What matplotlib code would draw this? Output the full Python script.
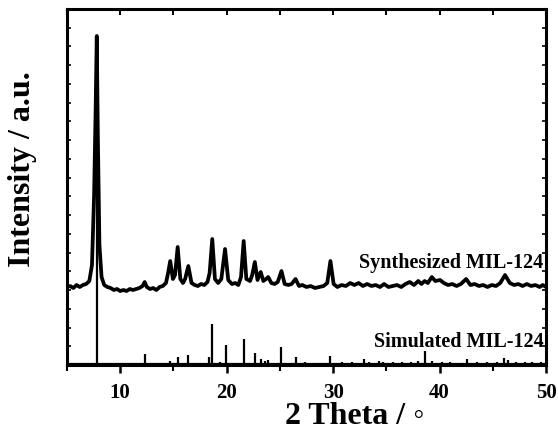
import matplotlib
matplotlib.use("Agg")
import matplotlib.pyplot as plt
from matplotlib.ticker import MultipleLocator

# Synthesized MIL-124 pattern (2theta, intensity a.u.)
synth_2theta = [5.0, 5.3, 5.6, 5.9, 6.2, 6.5, 6.8, 7.1, 7.35, 7.55, 7.7, 7.8, 7.9, 8.05, 8.25, 8.5,
                8.8, 9.1, 9.4, 9.7, 10.0, 10.3, 10.6, 10.9, 11.2, 11.5, 11.8, 12.1, 12.3, 12.5,
                12.8, 13.1, 13.4, 13.7, 14.0, 14.3, 14.5, 14.7, 14.95, 15.15, 15.4, 15.65, 15.9,
                16.1, 16.4, 16.7, 17.0, 17.3, 17.6, 17.9, 18.2, 18.4, 18.65, 18.9, 19.2, 19.5,
                19.85, 20.15, 20.5, 20.8, 21.1, 21.35, 21.6, 21.85, 22.2, 22.4, 22.65, 22.9, 23.2,
                23.45, 23.7, 23.9, 24.2, 24.5, 24.8, 25.15, 25.45, 25.8, 26.1, 26.47, 26.8, 27.1,
                27.5, 27.9, 28.3, 28.7, 29.1, 29.45, 29.75, 30.05, 30.4, 30.8, 31.2, 31.6, 32.0,
                32.4, 32.8, 33.2, 33.6, 34.0, 34.4, 34.8, 35.2, 35.6, 36.0, 36.4, 36.8, 37.2,
                37.6, 38.0, 38.3, 38.6, 38.9, 39.27, 39.6, 40.05, 40.4, 40.8, 41.2, 41.6, 42.0,
                42.5, 42.9, 43.3, 43.7, 44.1, 44.5, 44.9, 45.3, 45.7, 46.15, 46.6, 47.0, 47.4,
                47.8, 48.2, 48.6, 49.0, 49.4, 49.7, 50.0]
synth_int = [78, 79, 77, 80, 78, 80, 81, 84, 100, 170, 260, 329, 230, 120, 88, 80,
             78, 77, 75, 76, 74, 75, 74, 76, 75, 76, 77, 79, 83, 78,
             76, 77, 75, 78, 79, 82, 92, 104, 86, 90, 118, 86, 82,
             86, 99, 82, 80, 79, 81, 80, 83, 92, 126, 86, 82, 86,
             116, 85, 81, 82, 80, 88, 124, 86, 84, 90, 103, 85, 93,
             84, 86, 88, 82, 81, 83, 94, 81, 80, 81, 86, 79, 80,
             78, 79, 77, 78, 79, 82, 104, 81, 78, 80, 79, 82, 80,
             82, 79, 81, 79, 80, 78, 81, 78, 79, 80, 78, 81, 83,
             80, 84, 81, 84, 82, 88, 84, 85, 82, 80, 81, 79, 81,
             86, 80, 81, 79, 80, 78, 80, 79, 82, 90, 82, 80, 81,
             79, 81, 79, 80, 78, 80, 78]

# Simulated MIL-124 stick pattern
sim_2theta = [7.8, 12.3, 14.7, 15.4, 16.4, 18.3, 18.65, 19.4, 19.9, 21.65, 22.65, 23.2, 23.6,
              23.9, 25.15, 26.47, 27.4, 29.7, 30.8, 31.8, 32.9, 33.4, 34.3, 34.7, 35.6, 36.5,
              37.3, 38.0, 38.6, 39.3, 40.2, 41.0, 42.6, 43.5, 44.5, 45.4, 46.1, 46.4, 47.2,
              48.0, 48.7, 49.5]
sim_int = [329, 11, 4.3, 8, 10.3, 8, 41, 3, 20.3, 26, 12, 6, 4,
           5, 18.3, 8.3, 3, 9, 3, 3, 6, 3, 4, 3, 3, 3,
           3, 4, 14.3, 4, 3, 3, 6, 3, 3, 3, 7, 5, 3,
           3, 3, 3]
sim_base = 1.5

labels = ["Synthesized MIL-124", "Simulated MIL-124"]
label_y = [98, 19]

serif = ["Liberation Serif", "DejaVu Serif"]
plt.rcParams['font.family'] = serif
plt.rcParams['font.weight'] = 'bold'

fig = plt.figure(figsize=(5.58, 4.35), dpi=100)
ax = fig.add_axes([0.120, 0.1586, 0.8585, 0.8184])

ax.plot(synth_2theta, synth_int, color='black', lw=2.7, solid_joinstyle='round')
ax.vlines(sim_2theta, sim_base, sim_int, color='black', lw=1.6)
ax.plot([5, 50], [sim_base, sim_base], color='black', lw=1.6)

ax.text(49.75, label_y[0], labels[0], ha='right', va='baseline', fontsize=14.5, fontweight='bold')
ax.text(49.75, label_y[1], labels[1], ha='right', va='baseline', fontsize=14.5, fontweight='bold')

ax.set_xlim(5, 50)
ax.set_ylim(0, 356)
ax.xaxis.set_major_locator(MultipleLocator(10))
ax.xaxis.set_minor_locator(MultipleLocator(5))
ax.yaxis.set_major_locator(MultipleLocator(18.75))
ax.set_yticklabels([])
ax.tick_params(axis='x', which='major', direction='out', length=6, width=1.8, labelsize=15, pad=6)
ax.tick_params(axis='x', which='minor', direction='out', length=4, width=1.5)
ax.tick_params(axis='y', which='major', direction='in', length=3, width=1.2, left=True, right=True)
ax.tick_params(top=False)
for lab in ax.get_xticklabels():
    lab.set_fontweight('bold')
for s in ax.spines.values():
    s.set_linewidth(2.2)

# top inward ticks
axt = ax.secondary_xaxis('top')
axt.xaxis.set_major_locator(MultipleLocator(10))
axt.xaxis.set_minor_locator(MultipleLocator(5))
axt.tick_params(which='major', direction='in', length=4, width=1.5, labeltop=False)
axt.tick_params(which='minor', direction='in', length=4, width=1.5)
axt.spines['top'].set_visible(False)

ax.set_xlabel("2 Theta / \u25e6", fontsize=23, fontweight='bold')
ax.xaxis.set_label_coords(0.60, -0.10)
ax.set_ylabel("Intensity / a.u.", fontsize=23, fontweight='bold')
ax.yaxis.set_label_coords(-0.063, 0.553)

fig.savefig("out.png", dpi=100)
